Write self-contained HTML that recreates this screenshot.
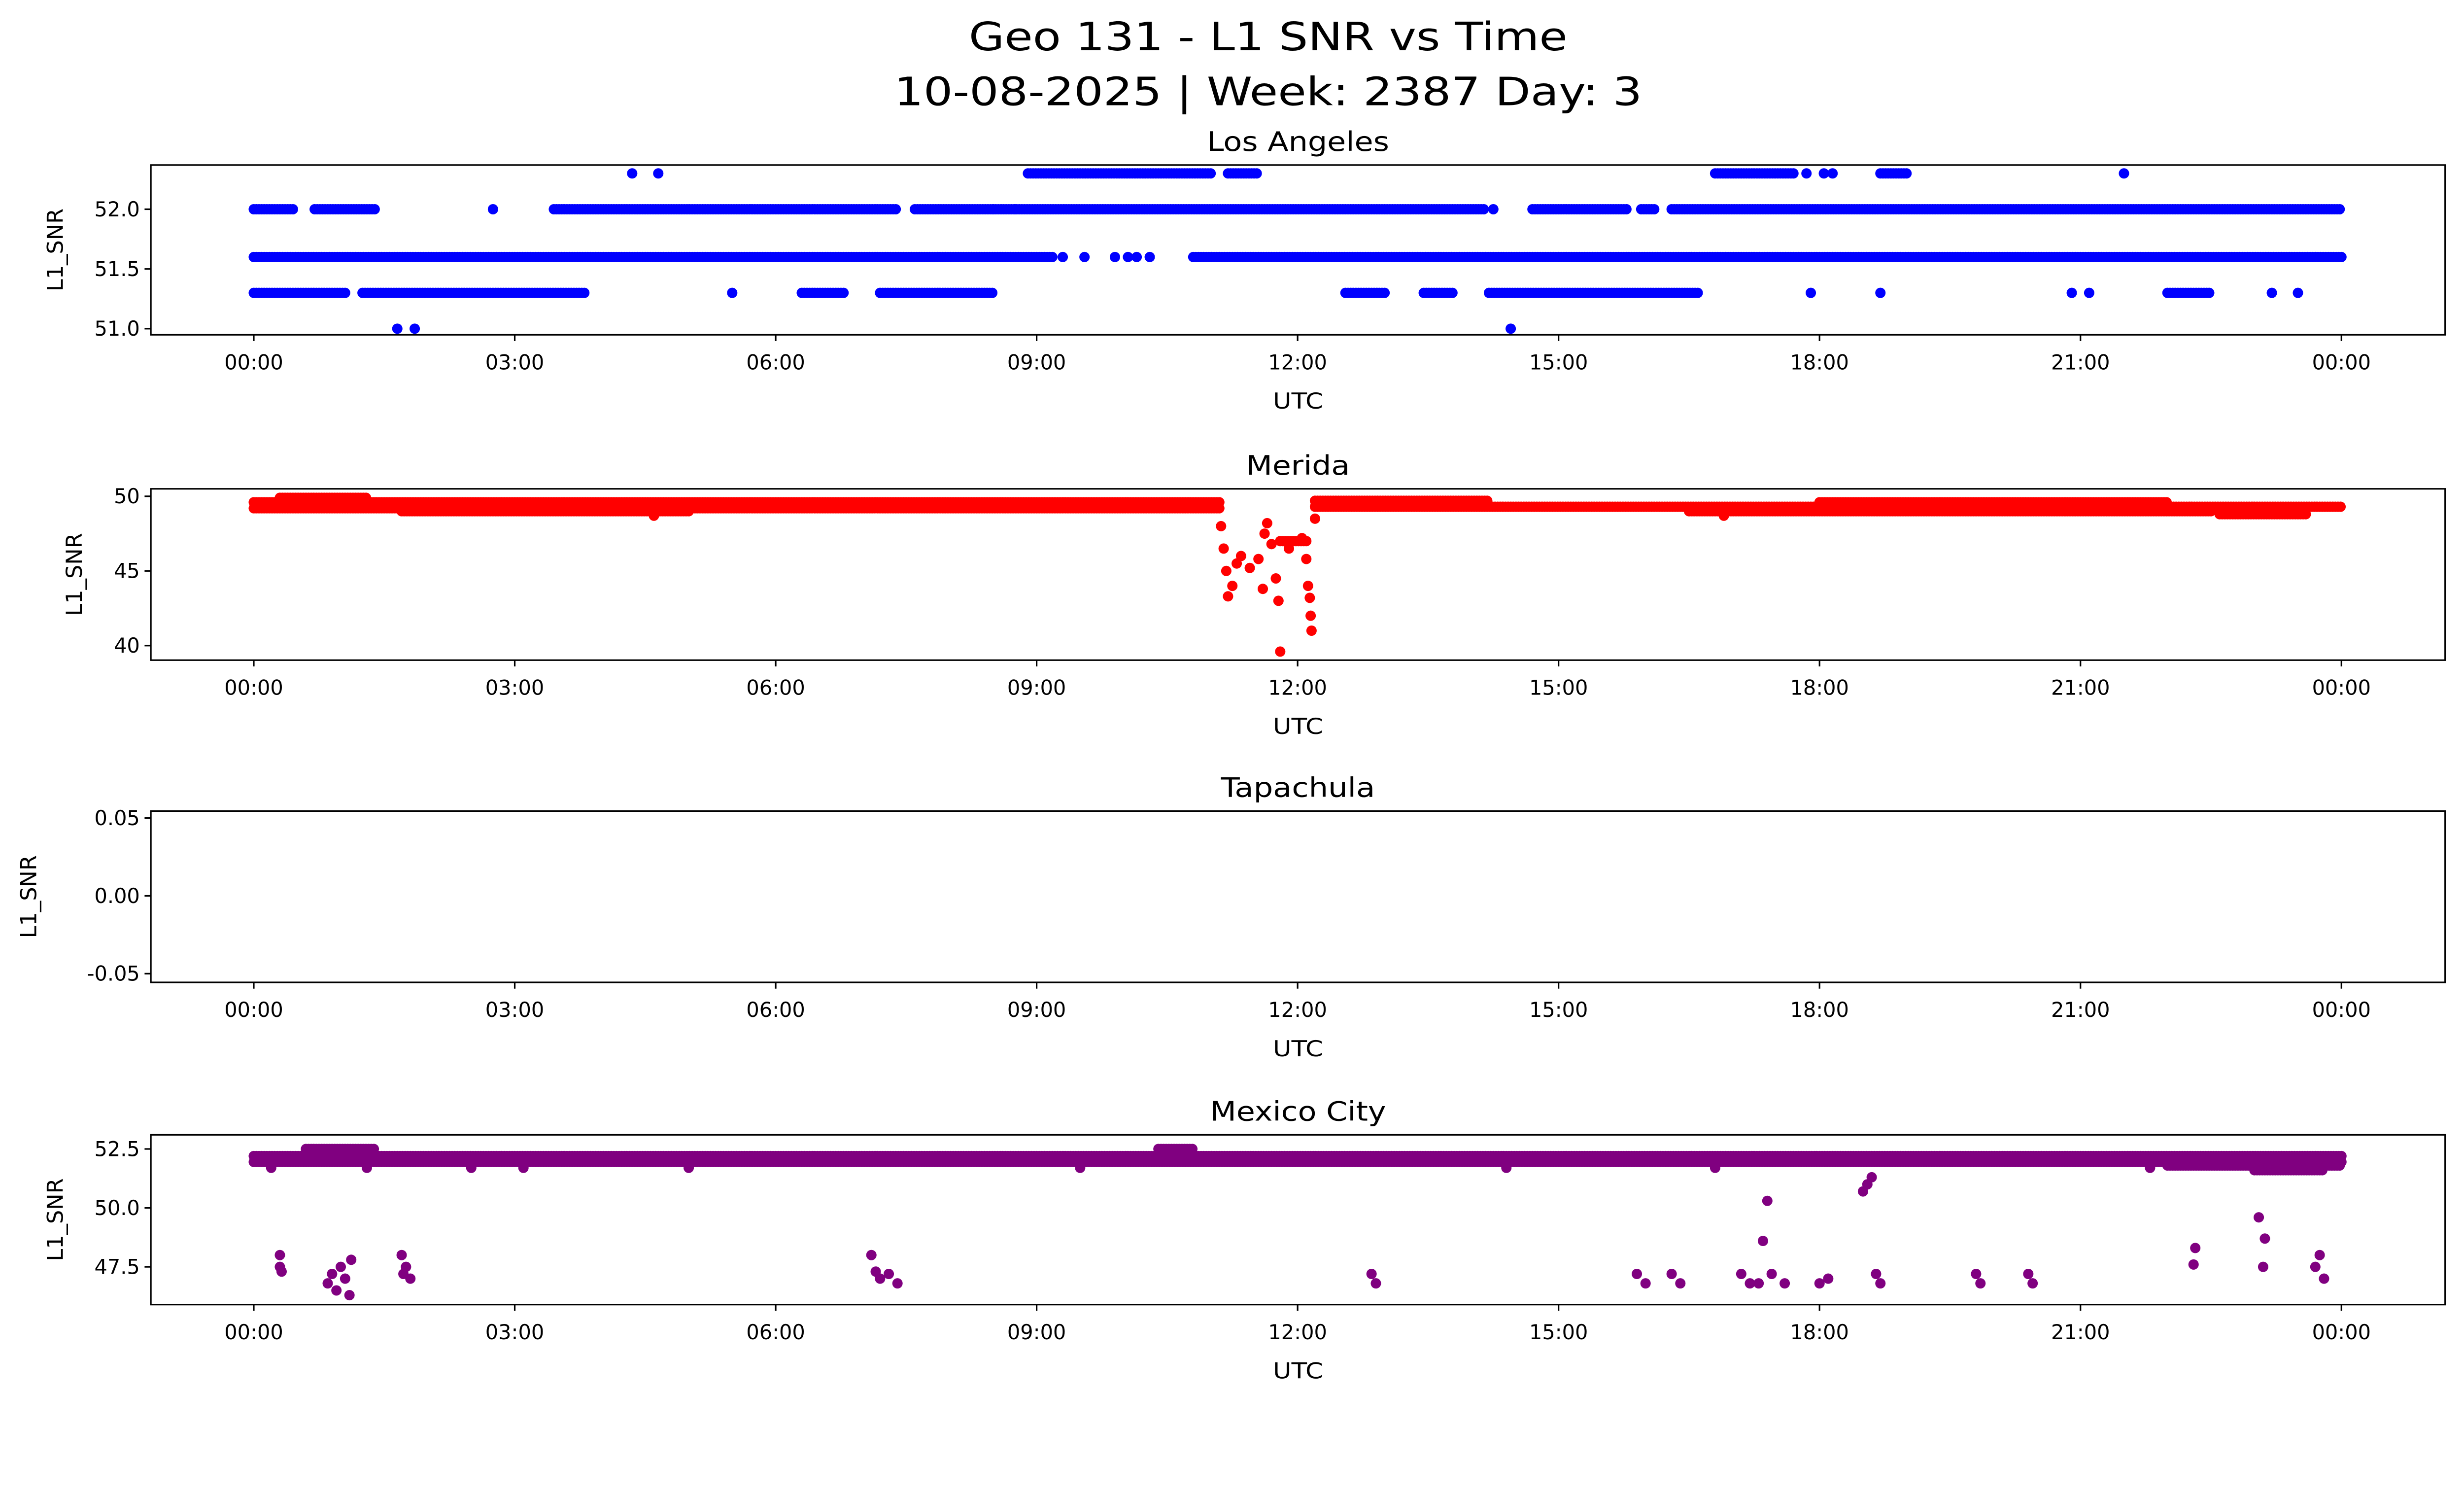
<!DOCTYPE html>
<html><head><meta charset="utf-8">
<style>
html,body{margin:0;padding:0;background:#fff;overflow:hidden;}
svg{display:block;position:absolute;left:0;top:0;width:100vw;height:calc(100vw * 0.569577);}
text{font-family:"DejaVu Sans","Liberation Sans",sans-serif;fill:#000;}
</style></head>
<body>
<svg id="fig" viewBox="0 0 1568 893" preserveAspectRatio="xMinYMin meet" xmlns="http://www.w3.org/2000/svg">
<text x="807" y="32" font-size="25" text-anchor="middle" textLength="381" lengthAdjust="spacingAndGlyphs">Geo 131 - L1 SNR vs Time</text>
<text x="807" y="67" font-size="25" text-anchor="middle" textLength="476" lengthAdjust="spacingAndGlyphs">10-08-2025 | Week: 2387 Day: 3</text>
<g id="plots"></g>
</svg>
<script>
// ---- data (hours UTC, L1 SNR) ----
const xTickLabels = ["00:00","03:00","06:00","09:00","12:00","15:00","18:00","21:00","00:00"];
const xTickHours = [0,3,6,9,12,15,18,21,24];
// runs: [startHour, endHour, value]
const laRuns = [[0,9.2,51.6],[10.8,24,51.6],[0,0.45,52.0],[0.7,1.4,52.0],[3.45,7.4,52.0],[7.6,8.5,52.0],[8.5,14.15,52.0],[14.7,15.8,52.0],[15.95,16.1,52.0],[16.3,24,52.0],
 [8.9,11.0,52.3],[11.2,11.55,52.3],[16.8,17.7,52.3],[18.7,19.0,52.3],
 [0,1.05,51.3],[1.25,3.8,51.3],[6.3,6.8,51.3],[7.2,8.5,51.3],[12.55,13.0,51.3],[13.45,13.8,51.3],[14.2,16.6,51.3],[22.0,22.5,51.3]];
const laPoints = [[9.3,51.6],[9.55,51.6],[9.9,51.6],[10.05,51.6],[10.15,51.6],[10.3,51.6],[2.75,52.0],[8.75,52.0],[14.25,52.0],
 [4.35,52.3],[4.65,52.3],[17.85,52.3],[18.05,52.3],[18.15,52.3],[21.5,52.3],
 [5.5,51.3],[17.9,51.3],[18.7,51.3],[20.9,51.3],[21.1,51.3],[23.2,51.3],[23.5,51.3],
 [1.65,51.0],[1.85,51.0],[14.45,51.0]];
const meRuns = [[0,11.1,49.2],[0,11.1,49.6],[0.3,1.3,49.9],[1.7,5.0,49.0],[12.2,24,49.3],[12.2,14.2,49.7],[16.5,22.5,49.0],[22.6,23.6,48.8],[18.0,22.0,49.6],[11.8,12.1,47.0]];
const mePoints = [[11.12,48.0],[11.15,46.5],[11.18,45.0],[11.2,43.3],[11.25,44.0],[11.3,45.5],[11.35,46.0],[11.45,45.2],[11.55,45.8],[11.6,43.8],[11.62,47.5],[11.65,48.2],[11.7,46.8],[11.75,44.5],[11.78,43.0],[11.8,39.6],[11.9,46.5],[12.05,47.2],[12.1,45.8],[12.12,44.0],[12.14,43.2],[12.15,42.0],[12.16,41.0],[12.2,48.5],[4.6,48.7],[16.9,48.7]];
const taRuns = [];
const taPoints = [];
const mcRuns = [[0,24,52.2],[0,24,51.95],[0.6,1.4,52.5],[10.4,10.8,52.5],[22.0,24,51.8],[23.0,23.8,51.6]];
const mcPoints = [[0.3,47.5],[0.3,48.0],[0.32,47.3],[0.85,46.8],[0.9,47.2],[0.95,46.5],[1.0,47.5],[1.05,47.0],[1.1,46.3],[1.12,47.8],[1.7,48.0],[1.75,47.5],[1.8,47.0],[1.72,47.2],
 [7.1,48.0],[7.15,47.3],[7.2,47.0],[7.3,47.2],[7.4,46.8],[12.85,47.2],[12.9,46.8],[15.9,47.2],[16.0,46.8],[16.3,47.2],[16.4,46.8],[17.1,47.2],[17.2,46.8],[17.3,46.8],
 [17.35,48.6],[17.4,50.3],[17.45,47.2],[17.6,46.8],[18.0,46.8],[18.1,47.0],[18.5,50.7],[18.55,51.0],[18.6,51.3],[18.65,47.2],[18.7,46.8],[19.8,47.2],[19.85,46.8],
 [20.4,47.2],[20.45,46.8],[22.3,47.6],[22.32,48.3],[23.1,47.5],[23.12,48.7],[23.05,49.6],[23.7,47.5],[23.75,48.0],[23.8,47.0],[0.2,51.7],[1.3,51.7],[2.5,51.7],[3.1,51.7],[5.0,51.7],[9.5,51.7],[14.4,51.7],[16.8,51.7],[21.8,51.7]];

const panels = [
 {name:"los-angeles",title:"Los Angeles",tw:116,top:105,bottom:213,vAtTop:52.37,pxPer:76,ticks:[52.0,51.5,51.0],fmt:1,runs:laRuns,pts:laPoints,color:"#0000ff",yx:40},
 {name:"merida",title:"Merida",tw:66,top:311,bottom:420,vAtTop:50.5,pxPer:9.5,ticks:[50,45,40],fmt:0,runs:meRuns,pts:mePoints,color:"#ff0000",yx:52},
 {name:"tapachula",title:"Tapachula",tw:98,top:516,bottom:625,vAtTop:0.0545,pxPer:990,ticks:[0.05,0.00,-0.05],fmt:2,runs:taRuns,pts:taPoints,color:"#00aa00",yx:23},
 {name:"mexico-city",title:"Mexico City",tw:112,top:722,bottom:830,vAtTop:53.1,pxPer:15,ticks:[52.5,50.0,47.5],fmt:1,runs:mcRuns,pts:mcPoints,color:"#800080",yx:40}
];
const L=96,R=1556;
const xs = h => 161.5 + h*(1328.5/24);
const NS="http://www.w3.org/2000/svg";
const root=document.getElementById('plots');
function mk(tag,attrs,parent){const e=document.createElementNS(NS,tag);for(const k in attrs)e.setAttribute(k,attrs[k]);(parent||root).appendChild(e);return e;}
panels.forEach(p=>{
  const ys = v => p.top + (p.vAtTop - v)*p.pxPer;
  const g=mk('g',{});
  
  
  const t=mk('text',{x:(L+R)/2,y:p.top-9,'font-size':17,'text-anchor':'middle',textLength:p.tw,lengthAdjust:'spacingAndGlyphs'},g);t.textContent=p.title;
  
  
  const dots=mk('g',{fill:p.color},g);
  
  
  const add=(h,v)=>{mk('circle',{cx:xs(h).toFixed(2),cy:ys(v).toFixed(2),r:3.3},dots);};
  p.runs.forEach(r=>{for(let h=r[0];h<=r[1]+1e-9;h+=0.03)add(h,r[2]);});
  p.pts.forEach(q=>add(q[0],q[1]));
  const fr=mk('rect',{x:L,y:p.top,width:R-L,height:p.bottom-p.top,fill:'none',stroke:'#000','stroke-width':1},g);
  
  
  p.ticks.forEach(v=>{const y=ys(v);
    mk('line',{x1:L-4,x2:L,y1:y,y2:y,stroke:'#000','stroke-width':1},g);
    const tt=mk('text',{x:L-7,y:y+4.5,'font-size':13,'text-anchor':'end'},g);tt.textContent=v.toFixed(p.fmt);
    
    
  });
  xTickHours.forEach((h,i)=>{const x=xs(h);
    mk('line',{x1:x,x2:x,y1:p.bottom,y2:p.bottom+4,stroke:'#000','stroke-width':1},g);
    const tt=mk('text',{x:x,y:p.bottom+22,'font-size':13,'text-anchor':'middle'},g);tt.textContent=xTickLabels[i];
    
    
  });
  const xl=mk('text',{x:(L+R)/2,y:p.bottom+47,'font-size':14,'text-anchor':'middle',textLength:32,lengthAdjust:'spacingAndGlyphs'},g);xl.textContent='UTC';
  
  
  const yc=(p.top+p.bottom)/2, yx=p.yx;
  const yl=mk('text',{x:yx,y:yc,'font-size':14,'text-anchor':'middle',transform:`rotate(-90 ${yx} ${yc})`},g);yl.textContent='L1_SNR';
  
  
});
</script>
</body></html>
